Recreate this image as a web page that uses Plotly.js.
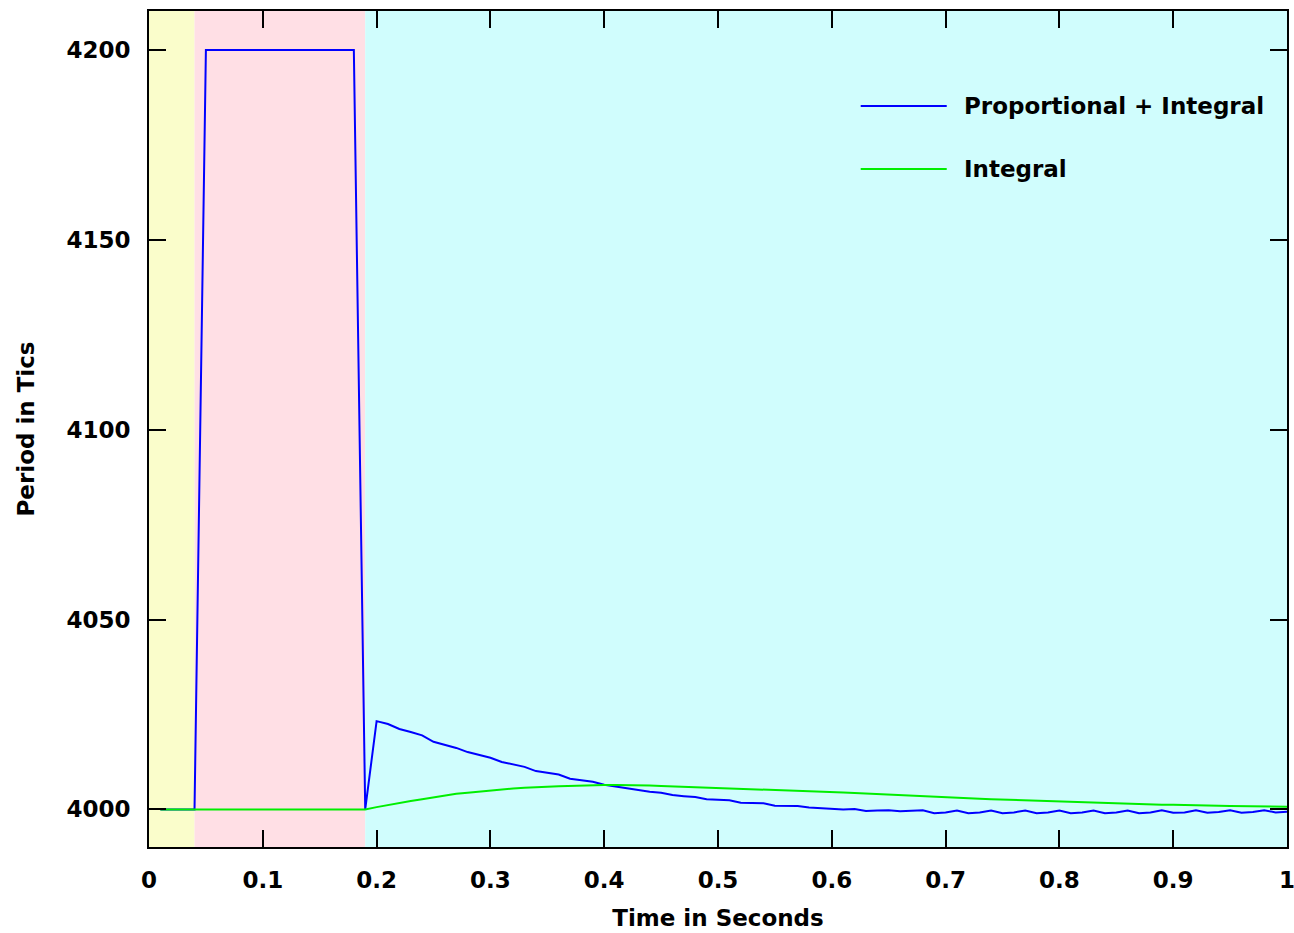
<!DOCTYPE html>
<html>
<head>
<meta charset="utf-8">
<script src="https://cdn.plot.ly/plotly-3.0.1.min.js"></script>
<style>
html,body{margin:0;padding:0;background:#fff;}
#chart{width:1294px;height:933px;}
</style>
</head>
<body>
<div id="chart"></div>
<script>
// Time samples (seconds)
var time = [0.01,0.02,0.03,0.04,0.05,0.06,0.07,0.08,0.09,0.10,
            0.11,0.12,0.13,0.14,0.15,0.16,0.17,0.18,0.19,0.20,
            0.21,0.22,0.23,0.24,0.25,0.26,0.27,0.28,0.29,0.30,
            0.31,0.32,0.33,0.34,0.35,0.36,0.37,0.38,0.39,0.40,
            0.41,0.42,0.43,0.44,0.45,0.46,0.47,0.48,0.49,0.50,
            0.51,0.52,0.53,0.54,0.55,0.56,0.57,0.58,0.59,0.60,
            0.61,0.62,0.63,0.64,0.65,0.66,0.67,0.68,0.69,0.70,
            0.71,0.72,0.73,0.74,0.75,0.76,0.77,0.78,0.79,0.80,
            0.81,0.82,0.83,0.84,0.85,0.86,0.87,0.88,0.89,0.90,
            0.91,0.92,0.93,0.94,0.95,0.96,0.97,0.98,0.99,1.00];

// Proportional + Integral controller (period in tics)
var propIntegral = [4000,4000,4000,4000,4200,4200,4200,4200,4200,4200,
                    4200,4200,4200,4200,4200,4200,4200,4200,4000,4023.25,
                    4022.5,4021.2,4020.4,4019.5,4017.8,4017.1,4016.2,4015.1,4014.3,4013.6,
                    4012.5,4011.8,4011.2,4010.1,4009.6,4009.2,4008.1,4007.7,4007.3,4006.5,
                    4006.0,4005.5,4005.0,4004.65,4004.4,4003.8,4003.5,4003.25,4002.7,4002.5,
                    4002.4,4001.75,4001.7,4001.6,4000.96,4000.96,4000.9,4000.5,4000.35,4000.18,
                    4000.0,4000.1,3999.56,3999.74,3999.8,3999.5,3999.6,3999.75,3999.0,3999.2,
                    3999.7,3999.0,3999.2,3999.7,3999.0,3999.2,3999.7,3999.0,3999.2,3999.7,
                    3999.0,3999.2,3999.7,3999.0,3999.2,3999.7,3999.0,3999.2,3999.8,3999.1,
                    3999.2,3999.8,3999.1,3999.3,3999.8,3999.1,3999.3,3999.8,3999.2,3999.4];

// Integral-only controller (period in tics)
var integralOnly = [4000,4000,4000,4000,4000,4000,4000,4000,4000,4000,
                    4000,4000,4000,4000,4000,4000,4000,4000,4000,4000.6,
                    4001.2,4001.75,4002.2,4002.7,4003.2,4003.7,4004.1,4004.4,4004.7,4005.0,
                    4005.3,4005.5,4005.7,4005.9,4006.0,4006.1,4006.2,4006.3,4006.35,4006.4,
                    4006.4,4006.4,4006.35,4006.3,4006.2,4006.1,4006.0,4005.9,4005.8,4005.7,
                    4005.6,4005.5,4005.4,4005.3,4005.2,4005.05,4004.9,4004.8,4004.7,4004.6,
                    4004.45,4004.3,4004.15,4004.0,4003.9,4003.75,4003.6,4003.45,4003.3,4003.2,
                    4003.05,4002.9,4002.8,4002.7,4002.6,4002.45,4002.35,4002.2,4002.1,4002.0,
                    4001.9,4001.8,4001.7,4001.6,4001.55,4001.45,4001.4,4001.3,4001.25,4001.2,
                    4001.1,4001.05,4001.0,4000.95,4000.9,4000.85,4000.8,4000.75,4000.7,4000.7];

// Phase regions (seconds)
var phaseStarts = [0, 0.04, 0.19];
var phaseEnds   = [0.04, 0.19, 1];
var phaseColors = ['#fafdcb', '#ffdfe5', '#d0fdfd'];

var seriesNames = ['Proportional + Integral', 'Integral'];
var seriesColors = ['#0000ff', '#00ee00'];

var xTicks = [0,0.1,0.2,0.3,0.4,0.5,0.6,0.7,0.8,0.9,1];
var xTickLabels = ['0','0.1','0.2','0.3','0.4','0.5','0.6','0.7','0.8','0.9','1'];
var yTicks = [4000,4050,4100,4150,4200];
var yTickLabels = ['4000','4050','4100','4150','4200'];

var FONT = 'DejaVu Sans, Verdana, sans-serif';
var FS = 23;

var traces = [
  {x: time, y: propIntegral, type: 'scatter', mode: 'lines', name: seriesNames[0],
   line: {color: seriesColors[0], width: 2}, showlegend: false, cliponaxis: true},
  {x: time, y: integralOnly, type: 'scatter', mode: 'lines', name: seriesNames[1],
   line: {color: seriesColors[1], width: 2}, showlegend: false, cliponaxis: true}
];

var shapes = [];
for (var i = 0; i < phaseStarts.length; i++) {
  shapes.push({type: 'rect', xref: 'x', yref: 'paper', x0: phaseStarts[i], x1: phaseEnds[i],
               y0: 0, y1: 1, fillcolor: phaseColors[i], line: {width: 0}, layer: 'below'});
}
// custom legend samples
var legY = [0.8864, 0.8111];
var annotations = [];
for (var j = 0; j < seriesNames.length; j++) {
  shapes.push({type: 'line', xref: 'paper', yref: 'paper', x0: 0.6254, x1: 0.701,
               y0: legY[j], y1: legY[j], line: {color: seriesColors[j], width: 2}});
  annotations.push({xref: 'paper', yref: 'paper', x: 0.7148, y: legY[j], xanchor: 'left',
                    yanchor: 'middle', showarrow: false, text: '<b>' + seriesNames[j] + '</b>',
                    font: {family: FONT, size: FS, color: '#000'}});
}

var layout = {
  width: 1294, height: 933,
  margin: {l: 149, r: 7, t: 11, b: 86, pad: 0},
  paper_bgcolor: '#ffffff',
  plot_bgcolor: '#ffffff',
  font: {family: FONT, size: FS, color: '#000'},
  xaxis: {
    range: [0, 1], tickvals: xTicks, ticktext: xTickLabels.map(function(s){return '<b>'+s+'</b>';}),
    ticks: 'inside', ticklen: 17, tickwidth: 2, tickcolor: '#000',
    showline: true, linewidth: 2, linecolor: '#000', mirror: 'ticks',
    showgrid: false, zeroline: false, ticklabelstandoff: 11, ticklabeloverflow: 'allow',
    automargin: false,
    tickfont: {family: FONT, size: FS, color: '#000'},
    title: {text: '<b>Time in Seconds</b>', font: {family: FONT, size: FS, color: '#000'}, standoff: 18}
  },
  yaxis: {
    range: [3990.1, 4210.3], tickvals: yTicks, ticktext: yTickLabels.map(function(s){return '<b>'+s+'</b>';}),
    ticks: 'inside', ticklen: 17, tickwidth: 2, tickcolor: '#000',
    showline: true, linewidth: 2, linecolor: '#000', mirror: 'ticks',
    showgrid: false, zeroline: false, ticklabelstandoff: 12, ticklabeloverflow: 'allow',
    automargin: false,
    tickfont: {family: FONT, size: FS, color: '#000'},
    title: {text: '<b>Period in Tics</b>', font: {family: FONT, size: FS, color: '#000'}, standoff: 25}
  },
  shapes: shapes,
  annotations: annotations,
  showlegend: false
};

Plotly.newPlot('chart', traces, layout, {displayModeBar: false, staticPlot: true});
</script>
</body>
</html>
